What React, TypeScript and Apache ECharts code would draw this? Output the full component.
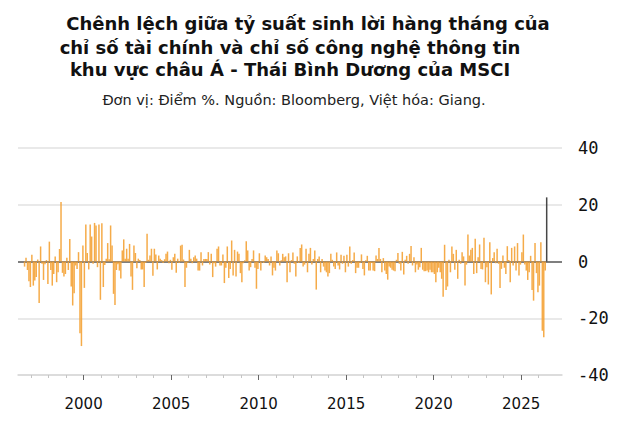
import React, { useEffect, useRef } from "react";
import * as echarts from "echarts";

const TITLE_LINES = [
  "Chênh lệch giữa tỷ suất sinh lời hàng tháng của",
  "chỉ số tài chính và chỉ số công nghệ thông tin",
  "khu vực châu Á - Thái Bình Dương của MSCI",
];
const SUBTITLE = "Đơn vị: Điểm %. Nguồn: Bloomberg, Việt hóa: Giang.";

// x axis spans Apr 1996 .. Apr 2027 (monthly categories); data starts Aug 1996
const AXIS_START = { year: 1996, month: 4 };
const AXIS_END = { year: 2027, month: 4 };
const DATA_START = { year: 1996, month: 8 };

// Financials minus IT monthly return spread, percentage points
const diff1996to1999 = [
  -1.8, 1.3, -3, -7, -9,
  2.4, -8.5, -6.7, -5.5, 0.7, -14.6, 5.3, -0.8, -6.5, -1, 0.5, -7.9,
  7, -3, -8.5, -4.4, 1.8, -7.3, -3.8, 4.4, 21, -4, -5.3, -4.4,
  1.3, -3, 7.9, -8.8, -15.5, -11.2, -1.4, -2.6, 3.3, -25.3, -29.8, 5.6,
];
const diff2000to2004 = [
  -9.3, 13, 3, -2.8, 13, 8.8, -0.8, 13.6, 12.7, -2, 13, -13.5,
  13.5, -9, -1.2, 1, 6.5, 0.8, 12.7, 5.6, -11.4, -15.3, -3, -1,
  -3.2, -6, 3.9, 7.8, 1, 4.5, 1, 6.2, -5.3, -10, 5.6, 3,
  -2.4, 1, 0.5, -2.8, -2.8, -9, -0.5, 9.8, 0.6, 2.1, 4.5, -5,
  4.5, 2.5, -2.8, 2.1, 1, 0.5, -0.5, 0.8, 2.7, 3.5, -0.6, 0.6,
];
const diff2005to2009 = [
  -2.9, 1.5, 2.7, -4, 1, -0.5, 5.6, 5.9, 0.7, -9, -2.2, -0.4,
  4.1, 1, -0.6, 1.5, 2.1, 1, -3.2, -3.2, 3.3, -1.4, 0.9, 0.9,
  0.9, 3.3, -1.1, 2.7, -5.5, -0.6, -1.8, 4.5, 5.3, -1.4, -1.4, 2.5,
  -7.6, -2.2, 5.3, -5.8, -2.6, 7.4, -4.9, 4.1, -5.3, 3.5, 2.7, -4.1,
  -7.3, -0.6, 0.4, 7.1, 3.9, -3.2, -2, 0.9, 3.9, -2.2, -9.6, -2.6,
];
const diff2010to2014 = [
  2.9, -3.2, -0.2, -0.5, 2.1, 1.5, 0.9, -1.4, 1.8, -4.9, -2.2, -3.2,
  3.9, 2.9, -1.4, 0.4, 2.7, 1.5, 1.8, -7.3, 2.9, -3.8, 0.5, 3.2,
  -0.8, -5.3, 1.8, -0.5, 4.8, 6, -1.8, -1.1, 4.5, -3.8, 2.7, 4.8,
  -1.1, 0.9, 3.9, -9.9, 0.9, 1.8, -3.8, 0.9, -1.8, -3.2, -3.8, -5.3,
  -4.1, 2.7, 0.6, -1.8, -2.6, 3.2, -1.4, -2.8, 2.4, -0.8, 2, -3.8,
];
const diff2015to2019 = [
  2.4, -1.8, 5.3, -0.8, 0.5, 3.2, -4.1, -2.2, -2.2, -0.5, 2.5, -2.6,
  -4.9, 0.4, 2, -3.2, -3.2, -0.5, -3.2, -3.4, 2.1, 0.9, 4.8, 0.9,
  -3.8, 1.2, -3.2, -4.4, -6.4, -1.8, -2.2, -2.9, -3.2, -3.4, 0.6, 3,
  -0.8, -3.2, 3.4, -4.6, 0.6, 2, -0.8, 2.7, 5.5, -1.4, 1.5, -3.8,
  -1.1, -2.9, -2, 4.8, -2.9, -3.4, -3.4, -3.2, -3.8, -2.9, -3.8, -3.8,
];
const diff2020to2024 = [
  -4.4, -7.3, -3.8, -2.2, -3.8, -6.1, -12.4, 5.9, -10, -8.8, 0.6, -3.8,
  5.3, 2.7, -2.9, 4.1, -6.1, 0.6, -0.8, 3.3, 1.8, -8.5, -1.1, 9.5,
  2.1, 4.1, 4.8, -4.4, 8, -4.1, 1.5, 6, -2.6, -2.8, 8.4, -7.3,
  -2, -8.1, 6.8, -11.6, 1.2, 3.3, -0.6, 4.5, -0.8, -9.3, -2.6, 2.1,
  -2.2, -4.4, 5.4, 0.5, -7.3, 4.8, -1.4, 5.3, -3.2, 6.5, -4.9, -1.1,
];
const diff2025to2026 = [
  3.3, 9.5, -1.1, -3.2, -6.5, -3.8, 2, -10, -13.8, 6.5, -4.1, -10.8,
  -8.5, 6.8, -24.4, -26.7, -3.2, 22.6,
];

const Y_MIN = -40;
const Y_MAX = 40;
const Y_STEP = 20;
const FIRST_YEAR_TICK = 1997;
const LAST_YEAR_TICK = 2026;
const FIRST_LABEL_YEAR = 2000;
const LAST_LABEL_YEAR = 2025;
const LABEL_YEAR_STEP = 5;

const BAR_COLOR = "#f4a235";
const LATEST_COLOR = "#333333";
const GRID_COLOR = "#e2e2e2";
const ZERO_COLOR = "#555555";

const PLOT_LEFT = 18;
const PLOT_RIGHT_X = 562;
const PLOT_TOP = 148;
const PLOT_BOTTOM_Y = 375;

function monthIndex(y: number, m: number) {
  return y * 12 + (m - 1);
}

export default function App() {
  const ref = useRef<HTMLDivElement>(null);
  useEffect(() => {
    if (!ref.current) return;
    const chart = echarts.init(ref.current, null, { renderer: "svg" });

    const startIdx = monthIndex(AXIS_START.year, AXIS_START.month);
    const endIdx = monthIndex(AXIS_END.year, AXIS_END.month);
    const categories: string[] = [];
    for (let i = startIdx; i <= endIdx; i++) {
      const y = Math.floor(i / 12);
      const m = (i % 12) + 1;
      categories.push(`${y}-${String(m).padStart(2, "0")}`);
    }
    const values = [
      ...diff1996to1999,
      ...diff2000to2004,
      ...diff2005to2009,
      ...diff2010to2014,
      ...diff2015to2019,
      ...diff2020to2024,
      ...diff2025to2026,
    ];
    const offset = monthIndex(DATA_START.year, DATA_START.month) - startIdx;
    const barData = categories.map((_, i) => {
      const k = i - offset;
      if (k < 0 || k >= values.length) return null;
      if (k === values.length - 1)
        return { value: values[k], itemStyle: { color: LATEST_COLOR } };
      return values[k];
    });

    const plotWidth = PLOT_RIGHT_X - PLOT_LEFT;
    const plotHeight = PLOT_BOTTOM_Y - PLOT_TOP;
    const monthPx = plotWidth / categories.length;
    const yearX = (year: number) =>
      PLOT_LEFT + (monthIndex(year, 1) - startIdx) * monthPx;

    const minorLeft = yearX(FIRST_YEAR_TICK);
    const minorWidth = yearX(LAST_YEAR_TICK) - minorLeft;
    const majorLeft = yearX(FIRST_LABEL_YEAR);
    const majorWidth = yearX(LAST_LABEL_YEAR) - majorLeft;

    const splitColors: string[] = [];
    for (let v = Y_MIN; v <= Y_MAX; v += Y_STEP) {
      splitColors.push(v === 0 ? ZERO_COLOR : GRID_COLOR);
    }

    const hiddenY = (gridIndex: number) => ({
      type: "value" as const,
      gridIndex,
      min: Y_MIN,
      max: Y_MAX,
      show: false,
    });

    const titleCenters = [308, 290, 290];
    const titleYs = [23, 47, 69];

    chart.setOption({
      animation: false,
      grid: [
        { left: PLOT_LEFT, top: PLOT_TOP, width: plotWidth, height: plotHeight },
        { left: minorLeft, top: PLOT_TOP, width: minorWidth, height: plotHeight },
        { left: majorLeft, top: PLOT_TOP, width: majorWidth, height: plotHeight },
      ],
      xAxis: [
        {
          type: "category",
          gridIndex: 0,
          data: categories,
          boundaryGap: true,
          axisLine: { show: true, onZero: false, lineStyle: { color: "#d8d8d8", width: 1.5 } },
          axisTick: { show: false },
          axisLabel: { show: false },
          splitLine: { show: false },
        },
        {
          type: "value",
          gridIndex: 1,
          min: FIRST_YEAR_TICK,
          max: LAST_YEAR_TICK,
          interval: 1,
          axisLine: { show: false, onZero: false },
          axisTick: { show: true, length: 3, lineStyle: { color: "#c4c4c4", width: 1 } },
          axisLabel: { show: false },
          splitLine: { show: false },
        },
        {
          type: "value",
          gridIndex: 2,
          min: FIRST_LABEL_YEAR,
          max: LAST_LABEL_YEAR,
          interval: LABEL_YEAR_STEP,
          axisLine: { show: false, onZero: false },
          axisTick: { show: true, length: 5, lineStyle: { color: "#666666", width: 1 } },
          axisLabel: {
            show: true,
            margin: 21,
            showMinLabel: true,
            showMaxLabel: true,
            fontFamily: "DejaVu Sans",
            fontSize: 15,
            color: "#111111",
            formatter: (v: number) => String(Math.round(v)),
          },
          splitLine: { show: false },
        },
      ],
      yAxis: [
        {
          type: "value",
          gridIndex: 0,
          position: "right",
          min: Y_MIN,
          max: Y_MAX,
          interval: Y_STEP,
          axisLine: { show: false },
          axisTick: { show: false },
          axisLabel: {
            margin: 16,
            fontFamily: "DejaVu Sans Mono",
            fontSize: 17,
            color: "#111111",
          },
          splitLine: { show: true, lineStyle: { color: splitColors, width: 1.5 } },
        },
        hiddenY(1),
        hiddenY(2),
      ],
      series: [
        {
          type: "bar",
          xAxisIndex: 0,
          yAxisIndex: 0,
          data: barData,
          barWidth: 1.5,
          itemStyle: { color: BAR_COLOR, opacity: 0.9 },
          silent: true,
        },
      ],
      graphic: [
        ...TITLE_LINES.map((t, i) => ({
          type: "text",
          x: titleCenters[i],
          y: titleYs[i],
          style: {
            text: t,
            fill: "#111111",
            fontFamily: "DejaVu Sans",
            fontWeight: "bold",
            fontSize: 18,
            align: "center",
            verticalAlign: "middle",
            textAlign: "center",
            textVerticalAlign: "middle",
          },
        })),
        {
          type: "text",
          x: 294,
          y: 100,
          style: {
            text: SUBTITLE,
            fill: "#222222",
            fontFamily: "DejaVu Sans",
            fontSize: 14.5,
            align: "center",
            verticalAlign: "middle",
            textAlign: "center",
            textVerticalAlign: "middle",
          },
        },
      ],
    });
    return () => chart.dispose();
  }, []);
  return (
    <div
      ref={ref}
      style={{ position: "absolute", left: 0, top: 0, width: 631, height: 434 }}
    />
  );
}
